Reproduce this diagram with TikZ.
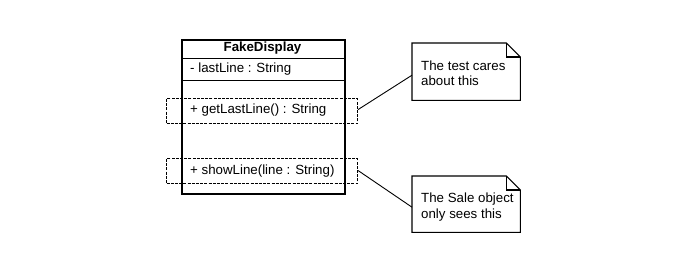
\documentclass[tikz,border=0pt]{standalone}
\usepackage{fontspec}
\setmainfont{Liberation Sans}
\usetikzlibrary{calc}
\begin{document}
\begin{tikzpicture}[x=1pt,y=-1pt,
  classbox/.style={draw, line width=1.5pt, minimum width=163pt, minimum height=154pt, anchor=north west, inner sep=0pt},
  member/.style={anchor=west, inner sep=0pt, font=\fontsize{13.3}{15}\selectfont},
  focus/.style={draw, line width=1.1pt, dash pattern=on 3pt off 1.2pt, minimum width=191pt, minimum height=25pt, anchor=north west, inner sep=0pt},
  notebox/.style={minimum width=108pt, anchor=north west, inner sep=0pt},
  notetext/.style={anchor=west, inner sep=0pt, align=left, font=\fontsize{13.3}{15.5}\selectfont},
  noteline/.style={line width=1.1pt},
  link/.style={line width=0.9pt}]
\useasboundingbox (0,0) rectangle (681,257);

% class box with its compartments
\node[classbox] (cls) at (181,39) {};
\draw[line width=1pt] (181,58) coordinate (h1) -- (344,58);
\draw[line width=1pt] (181,80) coordinate (h2) -- (344,80);
\node[font=\fontsize{13.3}{15}\selectfont\bfseries, inner sep=0pt] (title) at (262.5,48.5) {FakeDisplay};
\node[member] (attr) at (190,69) {- lastLine : String};
\node[member] (get) at (190,110.5) {+ getLastLine() : String};
\node[member] (show) at (190,171) {+ showLine(line : String)};

% dashed frames around the two operations
\node[focus] (fget) at (166,98) {};
\node[focus] (fshow) at (166,158) {};

% notes with folded corner
\node[notebox, minimum height=57pt] (n1) at (412,43) {};
\node[notebox, minimum height=56pt] (n2) at (412,176) {};
\foreach \n in {n1,n2} {
  \draw[noteline, fill=white] (\n.north west) -- ($(\n.north east)+(-14,0)$)
    -- ($(\n.north east)+(0,14)$) -- (\n.south east) -- (\n.south west) -- cycle;
  \draw[noteline] ($(\n.north east)+(-14,0)$) |- ($(\n.north east)+(0,14)$);
}
\node[notetext] (t1) at (421,73) {The test cares\\about this};
\node[notetext] (t2) at (421,207) {The Sale object\\only sees this};

% connectors from the frames to the notes
\draw[link] ($(fget.east)+(0,-1.5)$) -- ($(n1.west)+(0,3.5)$);
\draw[link] ($(fshow.east)+(0,-0.5)$) -- ($(n2.west)+(0,3)$);
\end{tikzpicture}
\end{document}
